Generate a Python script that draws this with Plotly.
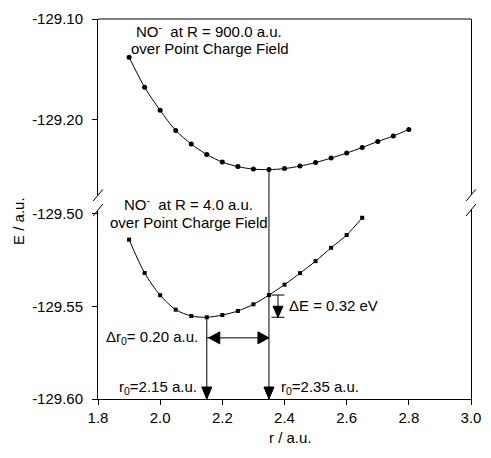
import plotly.graph_objects as go

# ---------------- data ----------------
r_far = [1.90, 1.95, 2.00, 2.05, 2.10, 2.15, 2.20, 2.25, 2.30, 2.35,
         2.40, 2.45, 2.50, 2.55, 2.60, 2.65, 2.70, 2.75, 2.80]
E_far = [-129.138, -129.168, -129.191, -129.211, -129.2245, -129.235, -129.2425,
         -129.247, -129.2495, -129.250, -129.249, -129.2465, -129.243, -129.2385,
         -129.2335, -129.228, -129.222, -129.2165, -129.210]

r_near = [1.90, 1.95, 2.00, 2.05, 2.10, 2.15, 2.20, 2.25, 2.30, 2.35,
          2.40, 2.45, 2.50, 2.55, 2.60, 2.65]
E_near = [-129.514, -129.532, -129.544, -129.5518, -129.5552, -129.5559, -129.5547,
          -129.5525, -129.5489, -129.5439, -129.5383, -129.5321, -129.5256,
          -129.5184, -129.5115, -129.5022]

x_ticks = [1.8, 2.0, 2.2, 2.4, 2.6, 2.8, 3.0]
x_tick_labels = ["1.8", "2.0", "2.2", "2.4", "2.6", "2.8", "3.0"]
y_top_ticks = [-129.20, -129.10]
y_top_labels = ["-129.20", "-129.10"]
y_bot_ticks = [-129.60, -129.55, -129.50]
y_bot_labels = ["-129.60", "-129.55", "-129.50"]

x_range = [1.8, 3.0]
y_top_range = [-129.2755, -129.10]
y_bot_range = [-129.60, -129.498]

# ---------------- layout geometry ----------------
W, H = 491, 458
ML, MR, MT, MB = 98, 10, 13, 59
PW, PH = W - ML - MR, H - MT - MB
top_px_bottom = 192   # pixel row of the bottom of the upper panel
bot_px_top = 207      # pixel row of the top of the lower panel
dom_top = [(H - MB - top_px_bottom) / PH, 1.0]
dom_bot = [0.0, (H - MB - bot_px_top) / PH]


def px(xp):
    return (xp - ML) / PW


def py(yp):
    return (H - MB - yp) / PH


FONT = "Arial, Liberation Sans, sans-serif"
FS = 15
FA = 15

# minima from data
i_far = E_far.index(min(E_far))
i_near = E_near.index(min(E_near))
r0_far, Emin_far = r_far[i_far], E_far[i_far]
r0_near, Emin_near = r_near[i_near], E_near[i_near]
E_near_at_far = E_near[r_near.index(r0_far)]

fig = go.Figure()
fig.add_trace(go.Scatter(
    x=r_far, y=E_far, xaxis="x", yaxis="y2", mode="lines+markers",
    line=dict(color="black", width=1, shape="spline", smoothing=0.8),
    marker=dict(symbol="circle", size=5, color="black"), showlegend=False))
fig.add_trace(go.Scatter(
    x=r_near, y=E_near, xaxis="x", yaxis="y", mode="lines+markers",
    line=dict(color="black", width=1, shape="spline", smoothing=0.8),
    marker=dict(symbol="square", size=4, color="black"), showlegend=False))

shapes = []
L = dict(color="black", width=1)
# upper panel top border
shapes.append(dict(type="line", xref="paper", yref="paper", x0=0, x1=1, y0=1, y1=1, line=L))
# vertical line from far minimum down to axis (three segments)
shapes.append(dict(type="line", xref="x", yref="y2", x0=r0_far, x1=r0_far,
                   y0=Emin_far, y1=y_top_range[0], line=L))
shapes.append(dict(type="line", xref="x", yref="paper", x0=r0_far, x1=r0_far,
                   y0=dom_bot[1], y1=dom_top[0], line=L))
shapes.append(dict(type="line", xref="x", yref="y", x0=r0_far, x1=r0_far,
                   y0=y_bot_range[1], y1=y_bot_range[0], line=L))
# vertical line from near minimum down to axis
shapes.append(dict(type="line", xref="x", yref="y", x0=r0_near, x1=r0_near,
                   y0=Emin_near, y1=y_bot_range[0], line=L))


def tri(xa, ya, path, yref="y"):
    return dict(type="path", xref="x", yref=yref, xsizemode="pixel", ysizemode="pixel",
                xanchor=xa, yanchor=ya, path=path,
                fillcolor="black", line=dict(color="black", width=1))


# down arrowheads at the axis
down = "M-5,12 L5,12 L0,0 Z"
shapes.append(tri(r0_near, y_bot_range[0], down))
shapes.append(tri(r0_far, y_bot_range[0], down))

# horizontal double arrow (delta r0)
y_dr = -129.567
shapes.append(dict(type="line", xref="x", yref="y", x0=r0_near, x1=r0_far,
                   y0=y_dr, y1=y_dr, line=L))
shapes.append(tri(r0_near, y_dr, "M2,0 L13,6 L13,-6 Z"))
shapes.append(tri(r0_far, y_dr, "M0,0 L-11,6 L-11,-6 Z"))

# delta E marker
x_de = 2.379
for yv in (E_near_at_far, Emin_near):
    shapes.append(dict(type="path", xref="x", yref="y", xsizemode="pixel", xanchor=x_de,
                       path=f"M-6.5,{yv} L6.5,{yv}", line=L))
shapes.append(dict(type="line", xref="x", yref="y", x0=x_de, x1=x_de,
                   y0=E_near_at_far, y1=Emin_near, line=L))
shapes.append(tri(x_de, Emin_near, "M-5,11 L5,11 L0,0 Z"))

# axis break slashes
for xp in (ML, ML + PW):
    for yp in (top_px_bottom, bot_px_top):
        shapes.append(dict(type="line", xref="paper", yref="paper",
                           x0=px(xp - 5), x1=px(xp + 5), y0=py(yp + 6), y1=py(yp - 6), line=L))

ann = []


def text(t, xp, yp, xanchor="left", angle=0, size=FA):
    ann.append(dict(text=t, xref="paper", yref="paper", x=px(xp), y=py(yp),
                    xanchor=xanchor, yanchor="middle", showarrow=False, textangle=angle,
                    font=dict(family=FONT, size=size, color="black")))


text("NO<sup>-</sup>\u00a0 at R = 900.0 a.u.", 135, 25)
text("over Point Charge Field", 130, 43)
text("NO<sup>-</sup>\u00a0 at R = 4.0 a.u.", 123, 200)
text("over Point Charge Field", 108, 220)
text("\u0394r<sub>0</sub>= 0.20 a.u.", 203, 337, "right")
text("\u0394E = 0.32 eV", 292, 304)
text("r<sub>0</sub>=2.15 a.u.", 202, 387, "right")
text("r<sub>0</sub>=2.35 a.u.", 284, 387)
text("E / a.u.", 17, 218, "center", -90, FS)
text("r / a.u.", 296, 438, "center", 0, FS)

axis_common = dict(showgrid=False, zeroline=False, showline=True, linecolor="black",
                   linewidth=1, ticks="outside", ticklen=5, tickcolor="black", tickwidth=1,
                   tickfont=dict(family=FONT, size=FS, color="black"))

fig.update_layout(
    width=W, height=H, margin=dict(l=ML, r=MR, t=MT, b=MB),
    paper_bgcolor="white", plot_bgcolor="white",
    xaxis=dict(range=x_range, tickvals=x_ticks, ticktext=x_tick_labels,
               anchor="y", ticklabelstandoff=0, **axis_common),
    yaxis=dict(range=y_bot_range, domain=dom_bot, tickvals=y_bot_ticks,
               ticktext=y_bot_labels, anchor="x", mirror=True, ticklabelstandoff=6,
               **axis_common),
    yaxis2=dict(range=y_top_range, domain=dom_top, tickvals=y_top_ticks,
                ticktext=y_top_labels, anchor="x", mirror=True, ticklabelstandoff=6,
                **axis_common),
    shapes=shapes, annotations=ann,
)

fig.write_html("out.html", config={"displayModeBar": False},
               post_script="document.body.style.margin='0px';document.body.style.overflow='hidden';")
